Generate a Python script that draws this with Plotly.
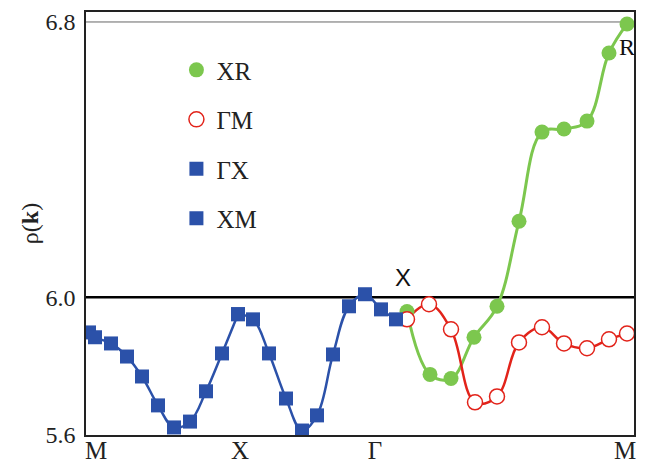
import plotly.graph_objects as go

# k-path coordinate (arbitrary units along the path)
tick_pos = [10, 154, 289, 539]
tick_text = ["M", "X", "Γ", "M"]

xm_k = [3, 9, 25, 41, 56, 72, 88, 104, 120, 136, 152]
xm_rho = [5.898, 5.884, 5.866, 5.828, 5.770, 5.686, 5.622, 5.639, 5.727, 5.837, 5.951]

gx_k = [152, 167, 183, 200, 216, 231, 247, 263, 279, 295, 310]
gx_rho = [5.951, 5.936, 5.837, 5.706, 5.613, 5.657, 5.834, 5.974, 6.009, 5.965, 5.936]

xr_k = [321, 344, 365, 388, 411, 433, 456, 478, 501, 523, 541]
xr_rho = [5.959, 5.776, 5.764, 5.884, 5.974, 6.221, 6.480, 6.489, 6.512, 6.710, 6.794]

gm_k = [321, 343, 365, 389, 411, 433, 456, 478, 501, 523, 541]
gm_rho = [5.936, 5.980, 5.907, 5.695, 5.712, 5.869, 5.913, 5.866, 5.852, 5.878, 5.895]

GREEN = "#7cc74e"
RED = "#e2231a"
BLUE = "#2b51a9"

fig = go.Figure()

# lines (no legend)
for xs, ys, col, w in [
    (xm_k, xm_rho, BLUE, 2.5),
    (gx_k, gx_rho, BLUE, 2.5),
    (xr_k, xr_rho, GREEN, 3),
    (gm_k, gm_rho, RED, 2.5),
]:
    fig.add_trace(go.Scatter(x=xs, y=ys, mode="lines", showlegend=False,
                             line=dict(color=col, width=w, shape="spline", smoothing=1.1),
                             hoverinfo="skip"))

# markers (legend)
fig.add_trace(go.Scatter(x=xr_k, y=xr_rho, mode="markers", name="XR", legendgroup="a",
                         marker=dict(symbol="circle", size=15, color=GREEN)))
fig.add_trace(go.Scatter(x=gm_k, y=gm_rho, mode="markers", name="ΓM", legendgroup="b",
                         marker=dict(symbol="circle", size=15, color="white",
                                     line=dict(color=RED, width=1.5))))
fig.add_trace(go.Scatter(x=gx_k, y=gx_rho, mode="markers", name="ΓX", legendgroup="c",
                         marker=dict(symbol="square", size=14, color=BLUE)))
fig.add_trace(go.Scatter(x=xm_k, y=xm_rho, mode="markers", name="XM", legendgroup="d",
                         marker=dict(symbol="square", size=14, color=BLUE)))

serif = "Liberation Serif"

fig.update_layout(
    width=648, height=463,
    margin=dict(l=86, r=14, t=12, b=28, autoexpand=False),
    paper_bgcolor="white", plot_bgcolor="white",
    font=dict(family=serif, size=24, color="#222"),
    showlegend=True,
    legend=dict(x=0.165, y=0.917, xanchor="left", yanchor="top",
                bgcolor="rgba(0,0,0,0)", traceorder="grouped",
                tracegroupgap=14, font=dict(family=serif, size=25, color="#222")),
    xaxis=dict(range=[0, 548], tickvals=tick_pos, ticktext=tick_text,
               showgrid=False, zeroline=False, showline=True, mirror=True,
               linecolor="#222", linewidth=1.5, ticks="", automargin=False,
               ticklabelstandoff=-8,
               tickfont=dict(family=serif, size=25, color="#222")),
    yaxis=dict(range=[5.6, 6.829], tickvals=[5.6, 6.0, 6.8],
               ticktext=["5.6", "6.0", "6.8"], automargin=False,
               showgrid=False, zeroline=False, showline=True, mirror=True,
               linecolor="#222", linewidth=1.5, ticks="",
               ticklabelstandoff=4,
               tickfont=dict(family=serif, size=24, color="#222"),
               title=dict(text="ρ(<b>k</b>)", standoff=0,
                          font=dict(family=serif, size=24, color="#222"))),
    shapes=[
        dict(type="line", xref="paper", x0=0, x1=1, yref="y", y0=6.0, y1=6.0,
             line=dict(color="black", width=2.5), layer="below"),
        dict(type="line", xref="paper", x0=0, x1=1, yref="y", y0=6.8, y1=6.8,
             line=dict(color="#666", width=1), layer="below"),
    ],
    annotations=[
        dict(x=317, y=6.058, xref="x", yref="y", text="X", showarrow=False,
             font=dict(family="Liberation Sans", size=24, color="#111")),
        dict(x=541, y=6.727, xref="x", yref="y", text="R", showarrow=False,
             font=dict(family=serif, size=24, color="#111")),
    ],
)

fig.write_html("out.html")
